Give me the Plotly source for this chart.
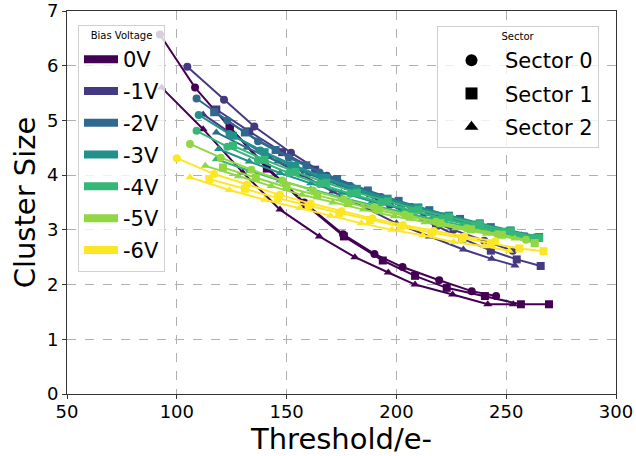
import plotly.graph_objects as go

# Bias voltages and their viridis colours
voltages = ["0V", "-1V", "-2V", "-3V", "-4V", "-5V", "-6V"]
colors = ["#440154", "#443983", "#31688e", "#21918c", "#35b779", "#90d743", "#fde725"]

sectors = ["Sector 0", "Sector 1", "Sector 2"]
symbols = ["circle", "square", "triangle-up"]

# ---- Sector 0 (circles): threshold [e-] and cluster size per bias voltage
s0_x = {
    "0V":  [92.3, 108.3, 124.2, 141, 158, 175.7, 190, 202.8, 219.5, 234.3, 245.4],
    "-1V": [104.8, 121.5, 135.3, 152, 168.3, 182.5, 197, 212, 226, 240, 253],
    "-2V": [109, 123, 137, 151, 165, 179, 193, 207, 221, 235, 249, 262],
    "-3V": [110, 124, 138, 152, 166, 180, 194, 208, 222, 236, 250, 263],
    "-4V": [109, 123, 137, 151, 165, 179, 193, 207, 221, 235, 249, 262],
    "-5V": [106, 120, 134, 148, 162, 176, 190, 204, 218, 232, 246, 259],
    "-6V": [100, 117, 132, 147, 161, 175, 189, 203, 217, 231, 245],
}
s0_y = {
    "0V":  [6.57, 5.60, 4.87, 4.15, 3.50, 2.92, 2.56, 2.32, 2.08, 1.88, 1.79],
    "-1V": [5.98, 5.38, 4.89, 4.41, 3.99, 3.72, 3.46, 3.22, 3.00, 2.80, 2.62],
    "-2V": [5.40, 5.00, 4.62, 4.32, 4.05, 3.80, 3.60, 3.42, 3.24, 3.08, 2.95, 2.84],
    "-3V": [5.10, 4.75, 4.45, 4.18, 3.95, 3.75, 3.56, 3.40, 3.25, 3.10, 2.97, 2.86],
    "-4V": [4.81, 4.52, 4.27, 4.04, 3.84, 3.66, 3.50, 3.35, 3.21, 3.08, 2.96, 2.85],
    "-5V": [4.57, 4.32, 4.10, 3.90, 3.72, 3.56, 3.42, 3.28, 3.15, 3.03, 2.92, 2.82],
    "-6V": [4.31, 4.02, 3.83, 3.64, 3.48, 3.34, 3.21, 3.09, 2.98, 2.88, 2.79],
}

# ---- Sector 1 (squares)
s1_x = {
    "0V":  [124, 141, 159, 176.1, 193.8, 208.5, 222.9, 240.3, 256.7, 269.5],
    "-1V": [118, 133, 148, 163, 178, 192, 206, 218, 230, 243, 254.8, 265.7],
    "-2V": [117, 131, 145, 159, 173, 187, 201, 215, 229, 243, 258],
    "-3V": [125.6, 140, 154, 168, 182, 196, 210, 224, 238, 252, 265],
    "-4V": [125.6, 140, 154, 168, 182, 196, 210, 224, 238, 252, 265],
    "-5V": [121, 136, 150, 164, 178, 192, 206, 220, 234, 248, 263],
    "-6V": [114.8, 131, 146, 160, 174, 188, 202, 216, 230, 243, 256, 267],
}
s1_y = {
    "0V":  [4.88, 4.12, 3.45, 2.88, 2.44, 2.16, 1.94, 1.79, 1.64, 1.64],
    "-1V": [5.20, 4.80, 4.42, 4.10, 3.80, 3.55, 3.30, 3.08, 2.84, 2.62, 2.46, 2.34],
    "-2V": [5.15, 4.78, 4.46, 4.18, 3.93, 3.72, 3.53, 3.36, 3.20, 3.05, 2.88],
    "-3V": [4.72, 4.42, 4.17, 3.95, 3.75, 3.57, 3.41, 3.26, 3.12, 2.99, 2.87],
    "-4V": [4.54, 4.28, 4.06, 3.86, 3.68, 3.52, 3.37, 3.23, 3.10, 2.97, 2.85],
    "-5V": [4.14, 3.95, 3.78, 3.63, 3.49, 3.36, 3.24, 3.12, 3.01, 2.91, 2.76],
    "-6V": [3.93, 3.75, 3.58, 3.44, 3.31, 3.18, 3.06, 2.95, 2.85, 2.75, 2.66, 2.61],
}

# ---- Sector 2 (triangles)
s2_x = {
    "0V":  [93.1, 112, 130, 147, 164.9, 181.1, 196.3, 208.5, 225.6, 241.6, 253.2],
    "-1V": [112, 127, 142, 157, 171, 186, 200, 215, 230.5, 243.4, 254],
    "-2V": [118, 132, 146, 160, 174, 188, 202, 216, 230, 244, 257],
    "-3V": [119, 133, 147, 161, 175, 189, 203, 217, 231, 245, 258],
    "-4V": [118, 133, 147, 161, 175, 189, 203, 217, 231, 245, 258],
    "-5V": [113, 128, 143, 157, 171, 185, 199, 213, 227, 241, 254],
    "-6V": [106, 124, 140, 156, 170, 184, 198, 212, 226, 240, 251.4],
}
s2_y = {
    "0V":  [5.60, 4.84, 4.05, 3.37, 2.88, 2.50, 2.22, 2.00, 1.82, 1.64, 1.64],
    "-1V": [5.11, 4.70, 4.33, 4.00, 3.70, 3.40, 3.12, 2.88, 2.64, 2.47, 2.35],
    "-2V": [4.78, 4.50, 4.25, 4.02, 3.82, 3.63, 3.46, 3.30, 3.16, 3.02, 2.90],
    "-3V": [4.48, 4.25, 4.04, 3.85, 3.68, 3.52, 3.38, 3.24, 3.11, 2.99, 2.88],
    "-4V": [4.29, 4.08, 3.90, 3.74, 3.59, 3.45, 3.32, 3.19, 3.07, 2.96, 2.86],
    "-5V": [4.17, 3.98, 3.80, 3.64, 3.50, 3.37, 3.25, 3.14, 3.03, 2.93, 2.84],
    "-6V": [3.96, 3.73, 3.55, 3.40, 3.26, 3.12, 3.00, 2.90, 2.78, 2.70, 2.62],
}

sector_data = [(s0_x, s0_y), (s1_x, s1_y), (s2_x, s2_y)]

FONT = "DejaVu Sans"
fig = go.Figure()

# data curves
for v, c in zip(voltages, colors):
    for (sx, sy), sym in zip(sector_data, symbols):
        fig.add_trace(go.Scatter(
            x=sx[v], y=sy[v], mode="lines+markers",
            line=dict(color=c, width=2),
            marker=dict(symbol=sym, size=8, color=c),
            showlegend=False, hoverinfo="skip",
        ))

# legend entries: bias voltage colours
for i, (v, c) in enumerate(zip(voltages, colors)):
    fig.add_trace(go.Scatter(
        x=[None], y=[None], mode="lines", name=v,
        line=dict(color=c, width=8), legend="legend",
        legendgroup=f"v{i}",
    ))

# legend entries: sector marker shapes
for i, (s, sym) in enumerate(zip(sectors, symbols)):
    fig.add_trace(go.Scatter(
        x=[None], y=[None], mode="markers", name=s,
        marker=dict(symbol=sym, size=12, color="black"), legend="legend2",
        legendgroup=f"s{i}",
    ))

grid = dict(showgrid=True, gridcolor="#b0b0b0", griddash="dash", gridwidth=1)
axis_common = dict(
    showline=True, linecolor="#333", linewidth=1, mirror=True,
    ticks="outside", ticklen=4, tickcolor="#333",
    tickfont=dict(family=FONT, size=18, color="black"),
    zeroline=False, **grid,
)

L, R, T, B = 67, 20, 11, 62
PW, PH = 636 - L - R, 456 - T - B

fig.update_layout(
    width=636, height=456,
    margin=dict(l=L, r=R, t=T, b=B, autoexpand=False),
    paper_bgcolor="white", plot_bgcolor="white",
    font=dict(family=FONT, color="black"),
    xaxis=dict(range=[50, 300], tickvals=[50, 100, 150, 200, 250, 300],
               ticklabelstandoff=-3,
               title=dict(text="Threshold/e-", font=dict(family=FONT, size=29), standoff=7),
               **axis_common),
    yaxis=dict(range=[0, 7], tickvals=[0, 1, 2, 3, 4, 5, 6, 7],
               title=dict(text="Cluster Size", font=dict(family=FONT, size=29), standoff=2),
               **axis_common),
    legend=dict(
        title=dict(text="Bias Voltage", font=dict(family=FONT, size=10), side="top center"),
        font=dict(family=FONT, size=21),
        x=(78 - L) / PW, y=1 - (25 - T) / PH,
        xanchor="left", yanchor="top",
        bgcolor="rgba(255,255,255,0.8)", bordercolor="#d0d0d0", borderwidth=1,
        itemwidth=34, tracegroupgap=1.5,
    ),
    legend2=dict(
        title=dict(text="Sector", font=dict(family=FONT, size=10), side="top center"),
        font=dict(family=FONT, size=21),
        x=(437 - L) / PW, y=1 - (26 - T) / PH,
        xanchor="left", yanchor="top",
        bgcolor="rgba(255,255,255,0.8)", bordercolor="#d0d0d0", borderwidth=1,
        itemwidth=57, tracegroupgap=3,
    ),
)

fig.write_html("out.html")
